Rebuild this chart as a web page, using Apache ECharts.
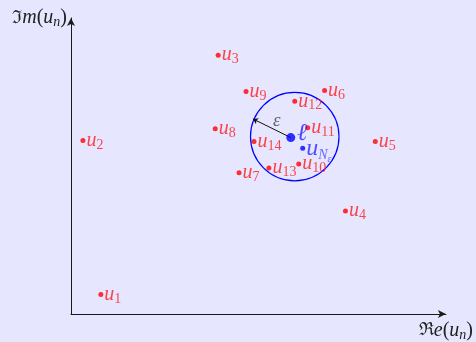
<!DOCTYPE html>
<html>
<head>
<meta charset="utf-8">
<script src="https://cdn.jsdelivr.net/npm/echarts@6/dist/echarts.min.js"></script>
<style>
  html, body { margin: 0; padding: 0; background: #e6e6ff; }
  #chart { width: 476px; height: 342px; }
</style>
</head>
<body>
<div id="chart"></div>
<script>
// Terms of the sequence u_n in the complex plane
const pointIds = [1, 2, 3, 4, 5, 6, 7, 8, 9, 10, 11, 12, 13, 14];
const pointRe  = [3.0, 1.2, 14.8, 27.6, 30.6, 25.5, 16.9, 14.5, 17.6, 22.9, 23.8, 22.5, 19.9, 18.4];
const pointIm  = [2.0, 17.7, 26.4, 10.5, 17.6, 22.8, 14.4, 18.9, 22.7, 15.3, 19.0, 21.7, 14.9, 17.6];

// Limit ℓ and the term u_{N_ε}
const limitPoint = [22.1, 18.0];
const termN = [23.3, 16.9];

// Neighbourhood disc of radius ε
const discCenter = [22.5, 18.1];
const epsilon = 4.45;
const radiusTip = [18.3, 19.9];
const epsLabelAt = [20.7, 19.7];

// Axis extents
const reMax = 37.7;
const imMax = 30.2;

const serif = "'Liberation Serif', 'DejaVu Serif', serif";
const red = '#ff1a1a';
const blue = '#0000ff';

const chart = echarts.init(document.getElementById('chart'), null, { renderer: 'canvas' });

const axisBase = {
  type: 'value',
  min: 0,
  axisTick: { show: false },
  axisLabel: { show: false },
  splitLine: { show: false },
  axisLine: {
    show: true,
    symbol: ['none', 'arrow'],
    symbolSize: [6, 8],
    lineStyle: { color: '#1a1a1a', width: 1 }
  }
};

const nameRich = {
  f: { fontFamily: "'DejaVu Serif', serif", fontSize: 18, color: '#222' },
  i: { fontFamily: serif, fontStyle: 'italic', fontSize: 20, color: '#222' },
  p: { fontFamily: serif, fontSize: 20, color: '#222' },
  s: { fontFamily: serif, fontStyle: 'italic', fontSize: 14, color: '#222', padding: [9, 0, 0, 0] }
};

const uRich = {
  u: { fontFamily: serif, fontStyle: 'italic', fontSize: 20, color: red },
  s: { fontFamily: serif, fontSize: 14, color: red, padding: [9, 0, 0, 0] }
};

chart.setOption({
  backgroundColor: '#e6e6ff',
  animation: false,
  grid: { left: 71, right: 28, top: 18, bottom: 22 },
  xAxis: Object.assign({}, axisBase, {
    max: reMax,
    name: '{f|ℜ}{i|e}{p|(}{i|u}{s|n}{p|)}',
    nameLocation: 'end',
    nameGap: 0,
    nameTextStyle: { align: 'center', verticalAlign: 'top', padding: [5, 0, 0, 0], rich: nameRich }
  }),
  yAxis: Object.assign({}, axisBase, {
    max: imMax,
    name: '{f|ℑ}{i|m}{p|(}{i|u}{s|n}{p|)}',
    nameLocation: 'end',
    nameGap: 0,
    nameTextStyle: { align: 'right', verticalAlign: 'middle', padding: [0, 4, 0, 0], rich: nameRich }
  }),
  series: [
    {
      // ε-disc around the limit
      type: 'custom',
      coordinateSystem: 'cartesian2d',
      silent: true,
      data: [[discCenter[0], discCenter[1], epsilon]],
      renderItem: function (params, api) {
        const c = api.coord([api.value(0), api.value(1)]);
        const r = api.size([api.value(2), 0])[0];
        return {
          type: 'circle',
          shape: { cx: c[0], cy: c[1], r: r },
          style: { fill: 'none', stroke: blue, lineWidth: 1.2 }
        };
      },
      z: 1
    },
    {
      // radius arrow
      type: 'lines',
      coordinateSystem: 'cartesian2d',
      polyline: false,
      silent: true,
      symbol: ['none', 'arrow'],
      symbolSize: 5,
      lineStyle: { color: '#111', width: 1, opacity: 1 },
      data: [{ coords: [limitPoint, radiusTip] }],
      z: 2
    },
    {
      // ε label
      type: 'scatter',
      symbolSize: 0,
      silent: true,
      data: [epsLabelAt],
      label: {
        show: true,
        position: 'inside',
        formatter: 'ε',
        fontFamily: serif,
        fontStyle: 'italic',
        fontSize: 19,
        color: '#444'
      }
    },
    {
      // sequence terms
      type: 'scatter',
      symbol: 'circle',
      symbolSize: 5,
      itemStyle: { color: '#ff0000' },
      data: pointIds.map((id, k) => ({ value: [pointRe[k], pointIm[k]], id: id })),
      label: {
        show: true,
        position: 'right',
        distance: 1,
        formatter: p => '{u|u}{s|' + pointIds[p.dataIndex] + '}',
        rich: uRich
      },
      z: 3
    },
    {
      // limit ℓ
      type: 'scatter',
      symbol: 'circle',
      symbolSize: 9,
      itemStyle: { color: blue },
      data: [limitPoint],
      label: {
        show: true,
        position: 'right',
        distance: 2,
        offset: [0, -4],
        formatter: 'ℓ',
        fontFamily: serif,
        fontStyle: 'italic',
        fontSize: 24,
        color: '#1a1aff'
      },
      z: 4
    },
    {
      // term u_{N_ε}
      type: 'scatter',
      symbol: 'circle',
      symbolSize: 5,
      itemStyle: { color: blue },
      data: [termN],
      label: {
        show: true,
        position: 'right',
        distance: 1,
        formatter: '{u|u}{n|N}{e|ε}',
        rich: {
          u: { fontFamily: serif, fontStyle: 'italic', fontSize: 24, color: '#2a2aff' },
          n: { fontFamily: serif, fontStyle: 'italic', fontSize: 14, color: '#4a4aff', padding: [14, 0, 0, 0] },
          e: { fontFamily: serif, fontStyle: 'italic', fontSize: 10, color: '#4a4aff', padding: [22, 0, 0, 0] }
        }
      },
      z: 4
    }
  ]
});
</script>
</body>
</html>
